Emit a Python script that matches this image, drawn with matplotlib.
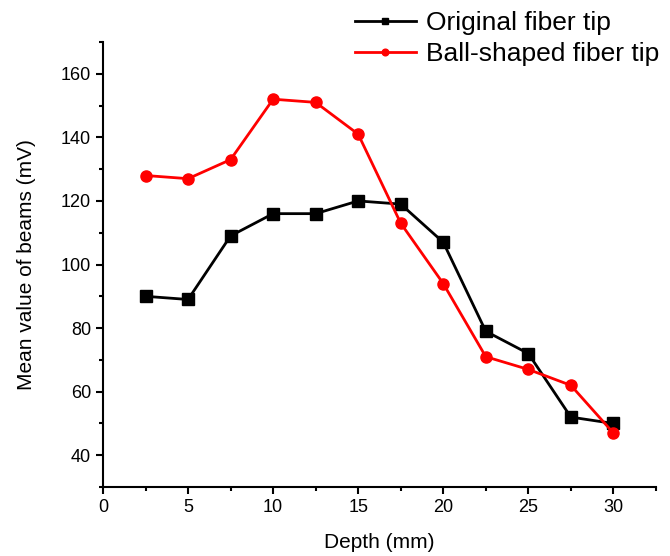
import matplotlib
matplotlib.use("Agg")
import matplotlib.pyplot as plt
from matplotlib.ticker import MultipleLocator

plt.rcParams['font.family'] = ['Liberation Sans', 'DejaVu Sans']

depth = [2.5, 5, 7.5, 10, 12.5, 15, 17.5, 20, 22.5, 25, 27.5, 30]
original = [90, 89, 109, 116, 116, 120, 119, 107, 79, 72, 52, 50]
ball = [128, 127, 133, 152, 151, 141, 113, 94, 71, 67, 62, 47]

fig = plt.figure(figsize=(6.7, 5.56), dpi=100)
ax = fig.add_axes([0.1537, 0.124, 0.8253, 0.8005])

l1, = ax.plot(depth, original, color='black', lw=2, marker='s', ms=8,
              label='Original fiber tip')
l2, = ax.plot(depth, ball, color='red', lw=2, marker='o', ms=8,
              label='Ball-shaped fiber tip')

ax.set_xlim(0, 32.5)
ax.set_ylim(30, 170)
ax.xaxis.set_major_locator(MultipleLocator(5))
ax.xaxis.set_minor_locator(MultipleLocator(2.5))
ax.yaxis.set_major_locator(MultipleLocator(20))
ax.yaxis.set_minor_locator(MultipleLocator(10))
ax.tick_params(which='major', direction='out', length=5, width=1.5, labelsize=13)
ax.tick_params(which='minor', direction='out', length=3, width=1.5)
ax.spines['top'].set_visible(False)
ax.spines['right'].set_visible(False)
for s in ('left', 'bottom'):
    ax.spines[s].set_linewidth(1.5)

ax.set_xlabel('Depth (mm)', fontsize=15, labelpad=12)
ax.set_ylabel('Mean value of beams (mV)', fontsize=15, labelpad=18)

leg = fig.legend(handles=[l1, l2], loc='upper left', bbox_to_anchor=(0.514, 0.999),
                 frameon=False, fontsize=19, markerscale=0.6, handlelength=2.3,
                 handletextpad=0.4, labelspacing=0.27, borderaxespad=0.0)

fig.savefig('out.png', dpi=100)
